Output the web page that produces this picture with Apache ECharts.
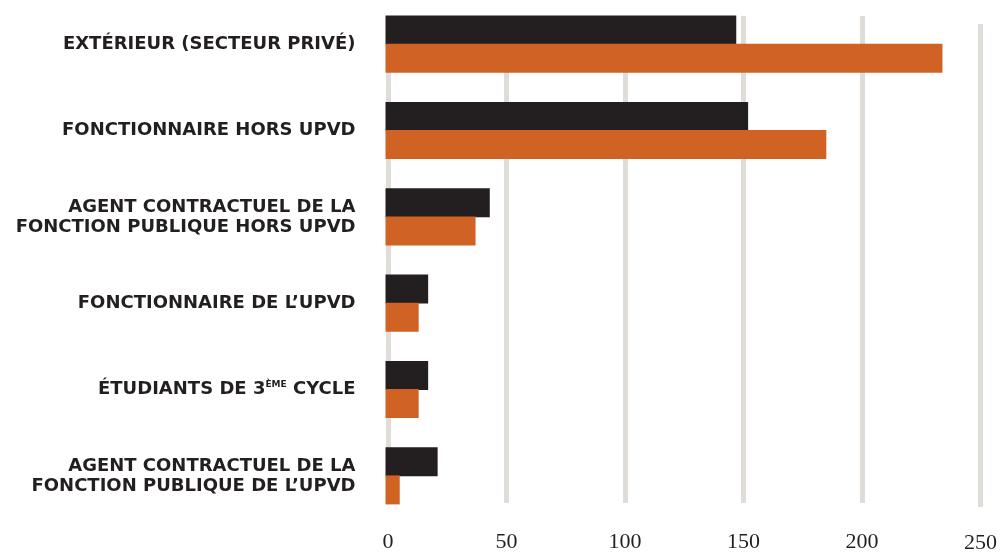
<!DOCTYPE html>
<html>
<head>
<meta charset="utf-8">
<script src="https://cdn.jsdelivr.net/npm/echarts@6/dist/echarts.min.js"></script>
<style>
  html, body { margin: 0; padding: 0; background: #fff; }
  #chart { width: 1001px; height: 554px; }
</style>
</head>
<body>
<div id="chart"></div>
<script>
  // catégories, de haut en bas
  const categories = [
    'EXTÉRIEUR (SECTEUR PRIVÉ)',
    'FONCTIONNAIRE HORS UPVD',
    'AGENT CONTRACTUEL DE LA\nFONCTION PUBLIQUE HORS UPVD',
    'FONCTIONNAIRE DE L’UPVD',
    'ÉTUDIANTS DE 3ÈME CYCLE',
    'AGENT CONTRACTUEL DE LA\nFONCTION PUBLIQUE DE L’UPVD'
  ]
  const seriesBlack = [148, 153, 44, 18, 18, 22]
  const seriesOrange = [235, 186, 38, 14, 14, 6]
  const xTicks = [0, 50, 100, 150, 200, 250]

  const black = '#231f20'
  const orange = '#d06224'
  const gridColor = '#e0ddd8'

  const chart = echarts.init(document.getElementById('chart'))

  const labelFont = 'DejaVu Sans'
  const numFont = 'Liberation Serif'

  chart.setOption({
    animation: false,
    grid: [
      // lignes 0..200
      { left: 388, width: 592.5, top: 16, bottom: 51 },
      // ligne 250 (décalée)
      { left: 388, width: 592.5, top: 24, bottom: 43 },
      // barres
      { left: 385.5, width: 592.5, top: 1, bottom: 35 }
    ],
    xAxis: [
      {
        gridIndex: 0, type: 'value', min: xTicks[0], max: xTicks[xTicks.length - 1], interval: 50,
        axisLine: { show: false }, axisTick: { show: false },
        splitLine: { show: true, showMaxLine: false, lineStyle: { color: gridColor, width: 5 } },
        axisLabel: {
          showMaxLabel: false, margin: 28,
          color: black, fontFamily: numFont, fontSize: 22
        }
      },
      {
        gridIndex: 1, type: 'value', min: 0, max: 250, interval: 250,
        axisLine: { show: false }, axisTick: { show: false },
        splitLine: { show: true, showMinLine: false, lineStyle: { color: gridColor, width: 5 } },
        axisLabel: {
          showMinLabel: false, margin: 29, lineHeight: 14,
          color: black, fontFamily: numFont, fontSize: 22
        }
      },
      {
        gridIndex: 2, type: 'value', min: 0, max: 250, show: false
      }
    ],
    yAxis: [
      { gridIndex: 0, type: 'value', show: false, min: 0, max: 1 },
      { gridIndex: 1, type: 'value', show: false, min: 0, max: 1 },
      {
        gridIndex: 2, type: 'category', data: categories, inverse: true,
        axisLine: { show: false }, axisTick: { show: false },
        axisLabel: {
          margin: 30, align: 'right', lineHeight: 20,
          color: black, fontFamily: labelFont, fontWeight: 'bold', fontSize: 18,
          formatter: function (v) {
            if (v.indexOf('3ÈME') >= 0) {
              return '{a|ÉTUDIANTS DE 3}{sup|ÈME}{a| CYCLE}'
            }
            return v
          },
          rich: {
            a: { color: black, fontFamily: labelFont, fontWeight: 'bold', fontSize: 18, lineHeight: 20 },
            sup: { color: black, fontFamily: labelFont, fontWeight: 'bold', fontSize: 9, lineHeight: 20, verticalAlign: 'top', padding: [1, 0, 0, 0] }
          }
        }
      }
    ],
    series: [
      {
        type: 'bar', xAxisIndex: 2, yAxisIndex: 2, data: seriesBlack,
        barWidth: 29, barGap: '-3%',
        itemStyle: { color: black }
      },
      {
        type: 'bar', xAxisIndex: 2, yAxisIndex: 2, data: seriesOrange,
        barWidth: 29, barGap: '-3%',
        itemStyle: { color: orange }
      }
    ]
  })
</script>
</body>
</html>
